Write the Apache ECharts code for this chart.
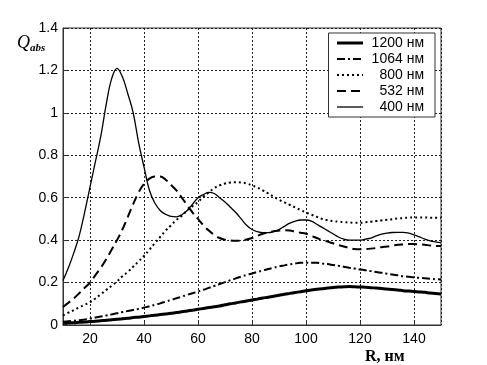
<!DOCTYPE html>
<html>
<head>
<meta charset="utf-8">
<script src="https://cdn.jsdelivr.net/npm/echarts@6/dist/echarts.min.js"></script>
<style>
html,body{margin:0;padding:0;background:#fff;}
#main{width:487px;height:365px;}
</style>
</head>
<body>
<div id="main"></div>
<script>
// R, нм
var R = [10,12,14,16,18,20,22,24,26,28,30,32,34,36,38,40,42,44,46,48,50,52,54,56,58,60,62,64,66,68,70,
	72,74,76,78,80,82,84,86,88,90,92,94,96,98,100,102,104,106,108,110,112,114,116,118,120,122,124,126,128,130,
	132,134,136,138,140,142,144,146,148,150];
var q1200 = [0.008,0.01,0.011,0.013,0.014,0.016,0.018,0.02,0.022,0.025,0.027,0.03,0.032,0.035,0.037,0.04,0.043,0.046,0.049,0.052,0.055,
	0.059,0.062,0.066,0.07,0.074,0.078,0.082,0.086,0.09,0.095,0.1,0.104,0.109,0.113,0.118,0.122,0.127,0.131,0.136,0.14,
	0.145,0.149,0.153,0.157,0.161,0.165,0.168,0.171,0.174,0.177,0.179,0.18,0.181,0.18,0.179,0.178,0.176,0.174,0.172,0.17,
	0.167,0.165,0.162,0.16,0.158,0.156,0.154,0.151,0.149,0.146];
var q1064 = [0.015,0.018,0.02,0.023,0.026,0.03,0.035,0.04,0.045,0.05,0.055,0.061,0.066,0.071,0.076,0.082,0.088,0.095,0.102,0.11,0.118,
	0.126,0.134,0.142,0.15,0.158,0.166,0.175,0.184,0.193,0.202,0.211,0.22,0.228,0.236,0.243,0.25,0.257,0.264,0.27,0.276,
	0.281,0.286,0.29,0.293,0.294,0.294,0.293,0.29,0.287,0.283,0.279,0.275,0.27,0.266,0.262,0.258,0.254,0.25,0.246,0.242,
	0.238,0.234,0.23,0.227,0.224,0.222,0.22,0.218,0.216,0.215];
var q800 = [0.045,0.058,0.07,0.083,0.095,0.108,0.125,0.145,0.165,0.185,0.205,0.23,0.25,0.275,0.3,0.325,0.355,0.385,0.415,0.445,0.47,
	0.495,0.515,0.54,0.56,0.58,0.605,0.625,0.645,0.658,0.667,0.672,0.673,0.672,0.667,0.658,0.648,0.635,0.62,0.605,0.59,
	0.578,0.566,0.554,0.542,0.53,0.52,0.51,0.5,0.494,0.49,0.487,0.485,0.483,0.482,0.482,0.484,0.487,0.49,0.493,0.496,
	0.499,0.502,0.504,0.506,0.507,0.507,0.507,0.506,0.506,0.505];
var q532 = [0.085,0.105,0.125,0.15,0.175,0.2,0.235,0.27,0.31,0.355,0.4,0.45,0.51,0.57,0.625,0.665,0.69,0.7,0.7,0.685,0.66,
	0.635,0.6,0.565,0.53,0.5,0.47,0.445,0.425,0.41,0.402,0.398,0.397,0.398,0.403,0.41,0.42,0.43,0.437,0.442,0.445,
	0.447,0.445,0.44,0.435,0.43,0.42,0.41,0.4,0.393,0.385,0.377,0.37,0.363,0.358,0.357,0.358,0.36,0.363,0.367,0.37,
	0.374,0.378,0.38,0.382,0.382,0.38,0.378,0.375,0.373,0.372];
var q400 = [0.21,0.27,0.34,0.42,0.53,0.65,0.77,0.89,1.04,1.16,1.21,1.17,1.09,1.0,0.86,0.745,0.635,0.575,0.54,0.522,0.512,
	0.51,0.52,0.54,0.57,0.6,0.615,0.625,0.62,0.6,0.58,0.555,0.53,0.5,0.47,0.45,0.44,0.435,0.435,0.44,0.45,
	0.465,0.48,0.49,0.495,0.495,0.49,0.475,0.46,0.445,0.43,0.415,0.405,0.4,0.4,0.4,0.405,0.41,0.42,0.428,0.433,
	0.436,0.437,0.437,0.433,0.425,0.415,0.405,0.397,0.392,0.388];
var names = ['1200 нм','1064 нм','800 нм','532 нм','400 нм'];

function pairs(ys){
	var out = [];
	for(var i=0;i<R.length;i++){ out.push([R[i], ys[i]]); }
	return out;
}
function mkLine(name, ys, width, type){
	return {
		name: name,
		type: 'line',
		data: pairs(ys),
		smooth: 0.4,
		showSymbol: false,
		symbol: 'none',
		lineStyle: {color: '#000', width: width, type: type},
		itemStyle: {color: '#000'}
	};
}

var chart = echarts.init(document.getElementById('main'));
var font = 'Liberation Sans, Arial, sans-serif';
var option = {
	animation: false,
	backgroundColor: '#fff',
	grid: {
		left: 63, right: 46, top: 28, bottom: 40,
		show: true, borderColor: '#333', borderWidth: 1, backgroundColor: 'transparent'
	},
	legend: {
		orient: 'vertical',
		right: 52, top: 33,
		itemWidth: 26, itemHeight: 10, itemGap: 2,
		padding: [3, 11, 3, 7],
		backgroundColor: '#fff',
		borderColor: '#333', borderWidth: 1, borderRadius: 0,
		data: names,
		itemStyle: {opacity: 0},
		lineStyle: {width: 'inherit', type: 'inherit', color: '#000'},
		formatter: function(n){ return '{t|' + n + '}'; },
		textStyle: {
			color: '#000', fontFamily: font, fontSize: 14, lineHeight: 14,
			rich: {t: {width: 56, align: 'right', fontSize: 14, lineHeight: 14, fontFamily: font, color: '#000'}}
		}
	},
	xAxis: {
		type: 'value', min: 10, max: 150, splitNumber: 7,
		axisLine: {show: true, onZero: false, lineStyle: {color: '#333'}},
		axisTick: {show: true, inside: true, length: 4, lineStyle: {color: '#333'}},
		axisLabel: {color: '#000', fontFamily: font, fontSize: 14, margin: 7, showMinLabel: false, showMaxLabel: false},
		splitLine: {show: true, lineStyle: {color: '#222', type: [2, 2], width: 1}}
	},
	yAxis: {
		type: 'value', min: 0, max: 1.4, interval: 0.2,
		axisLine: {show: true, lineStyle: {color: '#333'}},
		axisTick: {show: true, inside: true, length: 4, lineStyle: {color: '#333'}},
		axisLabel: {color: '#000', fontFamily: font, fontSize: 14, margin: 5},
		splitLine: {show: true, lineStyle: {color: '#222', type: [2, 2], width: 1}}
	},
	graphic: [
		{
			type: 'text', left: 17, top: 34,
			style: {
				text: '{q|Q}{s|abs}',
				rich: {
					q: {fontFamily: 'Liberation Serif, serif', fontStyle: 'italic', fontSize: 18, fill: '#000'},
					s: {fontFamily: 'Liberation Serif, serif', fontStyle: 'italic', fontWeight: 'bold', fontSize: 11, fill: '#000', padding: [10, 0, 0, 0]}
				}
			}
		},
		{
			type: 'text', left: 365, top: 349,
			style: {text: 'R, нм', fontFamily: 'Liberation Serif, serif', fontWeight: 'bold', fontSize: 16, fill: '#000'}
		}
	],
	series: [
		mkLine(names[0], q1200, 3, 'solid'),
		mkLine(names[1], q1064, 2, [8, 3, 2, 3]),
		mkLine(names[2], q800, 2, [2, 3]),
		mkLine(names[3], q532, 2, [9, 5]),
		mkLine(names[4], q400, 1.3, 'solid')
	]
};
chart.setOption(option);
</script>
</body>
</html>
